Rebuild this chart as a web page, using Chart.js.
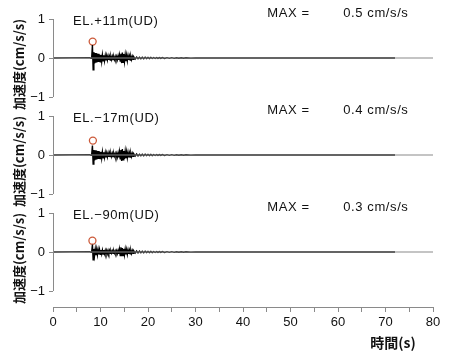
<!DOCTYPE html>
<html>
<head>
<meta charset="utf-8">
<script src="https://cdn.jsdelivr.net/npm/chart.js@4.4.0/dist/chart.umd.min.js"></script>
<style>
  body { margin: 0; background: #fff; }
  #wrap { width: 456px; height: 356px; }
</style>
</head>
<body>
<div id="wrap"><canvas id="chart" width="456" height="356"></canvas></div>
<script>
// sample times (s), shared by the three records
const times = [
  0, 7.75, 8.0, 8.15,
  8.3, 8.45, 8.6, 8.75, 8.9, 9.05, 9.2, 9.35, 9.5, 9.65,
  9.8, 9.95, 10.1, 10.25, 10.4, 10.55, 10.7, 10.85, 11.0, 11.15,
  11.3, 11.45, 11.6, 11.75, 11.9, 12.05, 12.2, 12.35, 12.5, 12.65,
  12.8, 12.95, 13.1, 13.25, 13.4, 13.55, 13.7, 13.85, 14.0, 14.15,
  14.3, 14.45, 14.6, 14.75, 14.9, 15.05, 15.2, 15.35, 15.5, 15.65,
  15.8, 15.95, 16.1, 16.25, 16.4, 16.55, 16.7, 16.85, 17.0,
  17.3, 17.6, 17.9, 18.2, 18.5, 18.8, 19.1, 19.4, 19.7, 20.0,
  20.3, 20.6, 20.9, 21.2, 21.5, 21.8, 22.1, 22.4, 22.7, 23.0,
  23.5, 24.0, 24.5, 25.0, 25.5, 26.0, 26.5, 27.0, 27.5, 28.0,
  29.0, 30.0, 32.0, 72.0
];

// EL.+11m (UD)
const accelTop = [
  0, 0.01, -0.01, 0.02,
  0.33, -0.30, 0.15, -0.14, 0.13, -0.12, 0.12, -0.11, 0.11, -0.10,
  0.09, -0.10, 0.08, -0.09, 0.08, -0.07, 0.07, -0.07, 0.06, -0.06,
  0.06, -0.05, 0.05, -0.05, 0.04, -0.05, 0.04, -0.04, 0.04, -0.04,
  0.03, -0.04, 0.04, -0.03, 0.04, -0.04, 0.05, -0.05, 0.07, -0.08,
  0.11, -0.13, 0.14, -0.11, 0.10, -0.09, 0.08, -0.08, 0.07, -0.07,
  0.06, -0.05, 0.05, -0.05, 0.04, -0.04, 0.04, -0.035, 0.03,
  -0.025, 0.025, -0.02, 0.02, -0.02, 0.02, -0.018, 0.018, -0.015, 0.015,
  -0.015, 0.015, -0.012, 0.012, -0.012, 0.012, -0.01, 0.01, -0.01, 0.01,
  -0.01, 0.01, -0.008, 0.008, -0.008, 0.006, -0.006, 0.005, -0.005, 0.005,
  -0.004, 0.004, 0, 0
];

// EL.-17m (UD)
const accelMid = [
  0, 0.01, -0.01, 0.02,
  0.24, -0.23, 0.13, -0.14, 0.12, -0.12, 0.11, -0.11, 0.10, -0.10,
  0.09, -0.09, 0.08, -0.08, 0.08, -0.07, 0.07, -0.06, 0.06, -0.06,
  0.05, -0.05, 0.05, -0.05, 0.05, -0.04, 0.04, -0.04, 0.04, -0.04,
  0.04, -0.03, 0.04, -0.04, 0.04, -0.05, 0.05, -0.06, 0.08, -0.10,
  0.13, -0.15, 0.15, -0.12, 0.10, -0.10, 0.09, -0.08, 0.08, -0.07,
  0.06, -0.06, 0.05, -0.05, 0.045, -0.04, 0.04, -0.035, 0.03,
  -0.025, 0.025, -0.022, 0.02, -0.02, 0.02, -0.018, 0.018, -0.016, 0.015,
  -0.015, 0.015, -0.013, 0.012, -0.012, 0.012, -0.01, 0.01, -0.01, 0.01,
  -0.01, 0.01, -0.008, 0.008, -0.008, 0.006, -0.006, 0.005, -0.005, 0.005,
  -0.004, 0.004, 0, 0
];

// EL.-90m (UD)
const accelBottom = [
  0, 0.01, -0.01, 0.01,
  0.19, -0.20, 0.08, -0.09, 0.07, -0.08, 0.07, -0.07, 0.06, -0.06,
  0.06, -0.06, 0.05, -0.05, 0.05, -0.05, 0.05, -0.04, 0.04, -0.04,
  0.04, -0.04, 0.04, -0.035, 0.035, -0.035, 0.03, -0.03, 0.03, -0.03,
  0.03, -0.03, 0.03, -0.03, 0.035, -0.04, 0.04, -0.05, 0.07, -0.09,
  0.12, -0.11, 0.10, -0.09, 0.08, -0.07, 0.07, -0.06, 0.06, -0.06,
  0.05, -0.05, 0.045, -0.045, 0.04, -0.04, 0.035, -0.035, 0.03,
  -0.025, 0.025, -0.022, 0.022, -0.02, 0.02, -0.018, 0.018, -0.016, 0.016,
  -0.015, 0.015, -0.013, 0.013, -0.012, 0.012, -0.011, 0.011, -0.01, 0.01,
  -0.01, 0.01, -0.009, 0.008, -0.008, 0.007, -0.006, 0.006, -0.005, 0.005,
  -0.004, 0.004, 0, 0
];

const baselineTimes = [0, 80];
const baselineValues = [0, 0];

// red circles at the peaks
const peakTimes = [8.35, 8.4, 8.3];
const peakValues = [0.42, 0.37, 0.29];

const panelLabels = ['EL.+11m(UD)', 'EL.\u221217m(UD)', 'EL.\u221290m(UD)'];
const maxValues = [0.5, 0.4, 0.3];
const yTicks = [-1, 0, 1];

const series = [accelTop, accelMid, accelBottom];
const axisIds = ['yTop', 'yMid', 'yBot'];

const datasets = [];
series.forEach((vals, i) => {
  datasets.push({
    data: baselineTimes.map((t, k) => ({ x: t, y: baselineValues[k] })),
    yAxisID: axisIds[i],
    borderColor: '#8a8a8a',
    borderWidth: 1.2,
    pointRadius: 0
  });
  datasets.push({
    data: times.map((t, k) => ({ x: t, y: vals[k] })),
    yAxisID: axisIds[i],
    borderColor: '#000',
    borderWidth: 1.4,
    pointRadius: 0
  });
  datasets.push({
    data: [{ x: peakTimes[i], y: peakValues[i] }],
    yAxisID: axisIds[i],
    showLine: false,
    pointRadius: 3.5,
    pointBorderWidth: 1.3,
    pointBorderColor: '#cc5a3a',
    pointBackgroundColor: 'rgba(0,0,0,0)',
    clip: false
  });
});

function yScale(weight) {
  return {
    type: 'linear',
    position: 'left',
    stack: 'panels',
    stackWeight: 1,
    weight: weight,
    min: -1.41,
    max: 1.077,
    afterBuildTicks: (s) => { s.ticks = yTicks.map(v => ({ value: v })); },
    afterFit: (s) => { s.width = 53; },
    border: { display: false },
    grid: { drawOnChartArea: false, drawTicks: true, tickLength: 4, color: '#8a8a8a' },
    ticks: {
      padding: 4,
      color: '#111',
      font: { family: 'Liberation Sans', size: 13 },
      callback: (v) => v < 0 ? '\u2212' + Math.abs(v) : String(v)
    },
    title: {
      display: true,
      text: '加速度(cm/s/s)',
      color: '#111',
      font: { family: 'Noto Sans CJK JP', size: 13, weight: 'bold' },
      padding: { top: 11, bottom: 0 }
    }
  };
}

const panelDecor = {
  id: 'panelDecor',
  afterDraw(chart) {
    const ctx = chart.ctx;
    const xs = chart.scales.x;
    axisIds.forEach((id, i) => {
      const ys = chart.scales[id];
      ctx.save();
      // left axis line, only from -1 to 1
      ctx.strokeStyle = '#8a8a8a';
      ctx.lineWidth = 1;
      const ax = Math.round(xs.left) + 0.5;
      ctx.beginPath();
      ctx.moveTo(ax, ys.getPixelForValue(1));
      ctx.lineTo(ax, ys.getPixelForValue(-1));
      ctx.stroke();
      // labels
      ctx.fillStyle = '#111';
      ctx.font = '13px "Liberation Sans"';
      ctx.textBaseline = 'middle';
      ctx.textAlign = 'left';
      ctx.letterSpacing = '0.6px';
      ctx.fillText(panelLabels[i], xs.getPixelForValue(4.2), ys.getPixelForValue(0.95));
      ctx.fillText('MAX =', xs.getPixelForValue(45.1), ys.getPixelForValue(1.15));
      ctx.fillText(maxValues[i].toFixed(1) + ' cm/s/s', xs.getPixelForValue(61.1), ys.getPixelForValue(1.15));
      ctx.restore();
    });
  }
};

new Chart(document.getElementById('chart'), {
  type: 'line',
  data: { datasets: datasets },
  options: {
    responsive: false,
    animation: false,
    layout: { padding: { top: 16, right: 23, left: 0, bottom: 0 } },
    plugins: { legend: { display: false }, tooltip: { enabled: false } },
    scales: {
      x: {
        type: 'linear',
        min: 0,
        max: 80,
        afterFit: (s) => { s.height = 49; },
        border: { display: true, color: '#8a8a8a' },
        grid: { drawOnChartArea: false, tickLength: 5, color: '#8a8a8a' },
        ticks: {
          stepSize: 5,
          padding: 3,
          maxRotation: 0,
          autoSkip: false,
          color: '#111',
          font: { family: 'Liberation Sans', size: 13 },
          callback: (v) => v % 10 === 0 ? String(v) : ''
        },
        title: {
          display: true,
          text: '時間(s)\u3000 ',
          align: 'end',
          color: '#111',
          font: { family: 'Noto Sans CJK JP', size: 14, weight: 'bold' },
          padding: { top: 4, bottom: 5 }
        }
      },
      yTop: yScale(3),
      yMid: yScale(2),
      yBot: yScale(1)
    }
  },
  plugins: [panelDecor]
});
</script>
</body>
</html>
